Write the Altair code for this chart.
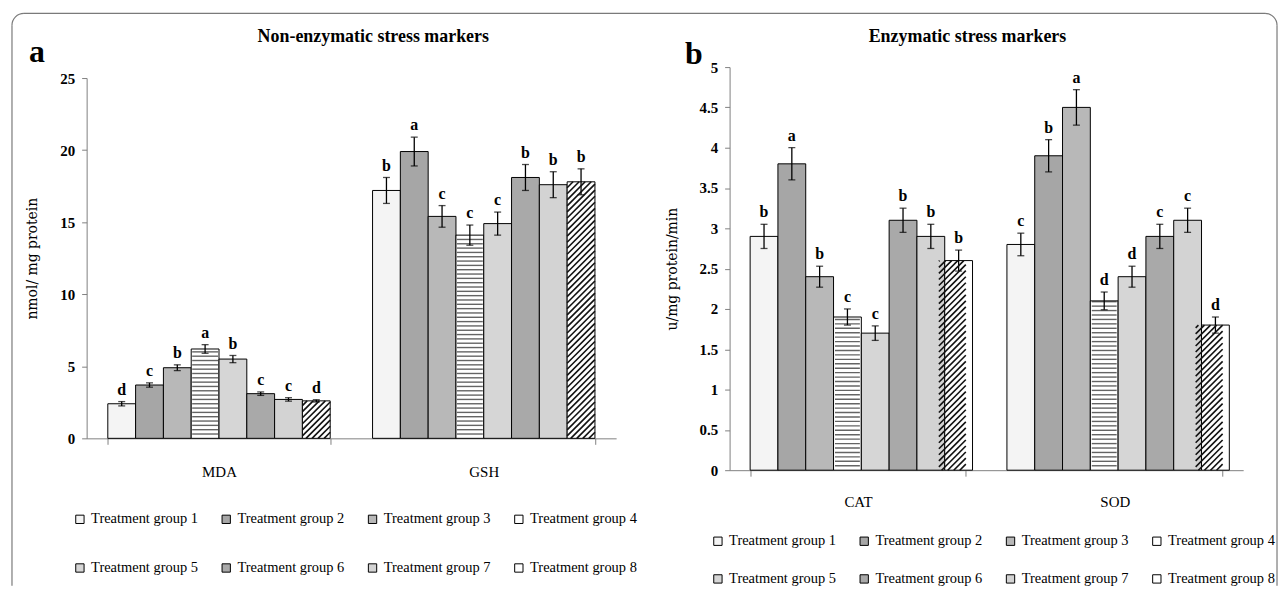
import altair as alt
import pandas as pd

groups = ["Treatment group 1", "Treatment group 2", "Treatment group 3", "Treatment group 4",
          "Treatment group 5", "Treatment group 6", "Treatment group 7", "Treatment group 8"]
fills = ["#f4f4f4", "#a6a6a6", "#b8b8b8", "#ffffff", "#d6d6d6", "#a9a9a9", "#d3d3d3", "#ffffff"]
striped_group = "Treatment group 4"
hatched_group = "Treatment group 8"

a_categories = ["MDA", "GSH"]
mda_values = [2.4, 3.7, 4.9, 6.2, 5.5, 3.1, 2.7, 2.6]
mda_err = [0.15, 0.15, 0.2, 0.3, 0.25, 0.12, 0.12, 0.08]
mda_letters = ["d", "c", "b", "a", "b", "c", "c", "d"]
gsh_values = [17.2, 19.9, 15.4, 14.1, 14.9, 18.1, 17.6, 17.8]
gsh_err = [0.9, 1.0, 0.75, 0.7, 0.8, 0.9, 0.9, 0.9]
gsh_letters = ["b", "a", "c", "c", "c", "b", "b", "b"]

b_categories = ["CAT", "SOD"]
cat_values = [2.9, 3.8, 2.4, 1.9, 1.7, 3.1, 2.9, 2.6]
cat_err = [0.15, 0.2, 0.13, 0.1, 0.09, 0.15, 0.15, 0.13]
cat_letters = ["b", "a", "b", "c", "c", "b", "b", "b"]
sod_values = [2.8, 3.9, 4.5, 2.1, 2.4, 2.9, 3.1, 1.8]
sod_err = [0.14, 0.2, 0.22, 0.11, 0.13, 0.15, 0.15, 0.1]
sod_letters = ["c", "b", "a", "d", "d", "c", "c", "d"]

a_ticks = [0, 5, 10, 15, 20, 25]
b_ticks = [0, 0.5, 1, 1.5, 2, 2.5, 3, 3.5, 4, 4.5, 5]


def build(series):
    rows = []
    for cat, vals, errs, lets in series:
        for g, v, e, l in zip(groups, vals, errs, lets):
            rows.append({"category": cat, "group": g, "value": v, "err": e, "letter": l})
    return pd.DataFrame(rows)


df_a = build([("MDA", mda_values, mda_err, mda_letters), ("GSH", gsh_values, gsh_err, gsh_letters)])
df_b = build([("CAT", cat_values, cat_err, cat_letters), ("SOD", sod_values, sod_err, sod_letters)])
one = pd.DataFrame({"k": [0]})

SERIF = "Liberation Serif"
PAD_IN, PAD_OUT = 0.16, 0.08
BORDER = "#7a7a7a"


def panel(df, cats, ymax, ticks, yrange, width, height, title, title_x, ylabel, ytitle_pad,
          letter, letter_x, letter_y, legend_x, legend_y, row_pad, xlabel_pad, stripe_step, bar_w,
          hatch_rise, hatch_step, border=False):
    xenc = alt.X("category:N", sort=cats,
                 scale=alt.Scale(paddingInner=PAD_IN, paddingOuter=PAD_OUT),
                 axis=alt.Axis(title=None, labelAngle=0, tickBand="extent", domainColor="#808080",
                               tickColor="#808080", tickSize=6, labelPadding=xlabel_pad, labelFont=SERIF,
                               labelFontSize=15, labelColor="black"))
    xo = alt.XOffset("group:N", sort=groups, scale=alt.Scale(paddingInner=0, paddingOuter=0))

    def yenc(field):
        return alt.Y(field, type="quantitative",
                     scale=alt.Scale(domain=[0, ymax], range=yrange, nice=False, zero=True),
                     axis=alt.Axis(values=ticks, grid=False, domainColor="#808080", tickColor="#808080",
                                   tickSize=5, labelPadding=7, labelFont=SERIF, labelFontSize=15,
                                   labelFontWeight="bold", labelColor="black", format="~g",
                                   title=ylabel, titleFont="DejaVu Serif", titleFontSize=14,
                                   titleFontWeight="normal", titleColor="black",
                                   titlePadding=ytitle_pad))

    base = alt.Chart(df).transform_calculate(hi="datum.value + datum.err", lo="datum.value - datum.err")

    bars = base.mark_bar(stroke="black", strokeWidth=1).encode(
        x=xenc, xOffset=xo, y=yenc("value"),
        color=alt.Color("group:N", sort=groups, scale=alt.Scale(domain=groups, range=fills),
                        legend=alt.Legend(orient="none", legendX=legend_x, legendY=legend_y, columns=4,
                                          direction="horizontal", title=None, symbolType="square",
                                          symbolSize=70, symbolStrokeColor="black", symbolStrokeWidth=1,
                                          labelFont=SERIF, labelFontSize=14.5, labelColor="black",
                                          columnPadding=21, rowPadding=row_pad, labelOffset=4,
                                          padding=0, labelLimit=200)))
    stripes = base.transform_filter(alt.datum.group == striped_group).transform_calculate(
        level=f"sequence({stripe_step}, datum.value, {stripe_step})").transform_flatten(
        ["level"]).mark_tick(color="#222222", thickness=1.4, size=bar_w).encode(
        x=xenc, xOffset=xo, y=yenc("level"))
    rules = base.mark_rule(color="black", strokeWidth=1.3).encode(
        x=xenc, xOffset=xo, y=yenc("lo"), y2="hi:Q")
    cap_hi = base.mark_tick(color="black", thickness=1.3, size=7).encode(x=xenc, xOffset=xo, y=yenc("hi"))
    cap_lo = base.mark_tick(color="black", thickness=1.3, size=7).encode(x=xenc, xOffset=xo, y=yenc("lo"))
    letters = base.mark_text(font=SERIF, fontSize=16, fontWeight="bold", baseline="bottom", dy=-4,
                             color="black").encode(x=xenc, xOffset=xo, y=yenc("hi"), text="letter:N")
    band_layers = alt.layer(bars, stripes, rules, cap_hi, cap_lo, letters)

    # diagonal hatching of group 8, in units of the band step (linear scale over the two bands)
    bw_u = (1 - PAD_IN) / len(groups)
    cats_js = "[" + ",".join(f"'{c}'" for c in cats) + "]"
    groups_js = "[" + ",".join(f"'{g}'" for g in groups) + "]"
    hatch = base.transform_filter(alt.datum.group == hatched_group).transform_calculate(
        left=f"{PAD_OUT} + indexof({cats_js}, datum.category) + indexof({groups_js}, datum.group) * {bw_u}",
        L=f"sequence({hatch_step} - {hatch_rise}, datum.value, {hatch_step})").transform_flatten(
        ["L"]).transform_calculate(
        t0=f"max(0, -datum.L / {hatch_rise})",
        t1=f"min(1, (datum.value - datum.L) / {hatch_rise})").transform_filter(
        "datum.t1 > datum.t0").transform_calculate(
        hx1=f"datum.left + datum.t0 * {bw_u}", hx2=f"datum.left + datum.t1 * {bw_u}",
        hy1=f"datum.L + datum.t0 * {hatch_rise}", hy2=f"datum.L + datum.t1 * {hatch_rise}").mark_rule(
        color="#111111", strokeWidth=1.6).encode(
        x=alt.X("hx1:Q", scale=alt.Scale(domain=[0, len(cats)], nice=False, zero=False), axis=None),
        x2="hx2:Q", y=yenc("hy1"), y2="hy2:Q")

    plabel = alt.Chart(one).mark_text(text=letter, font=SERIF, fontSize=32, fontWeight="bold",
                                      align="center", baseline="alphabetic", color="black").encode(
        x=alt.value(letter_x), y=alt.value(letter_y))
    ptitle = alt.Chart(one).mark_text(text=title, font=SERIF, fontSize=18, fontWeight="bold",
                                      align="center", baseline="alphabetic", color="black").encode(
        x=alt.value(title_x), y=alt.value(-25))
    layers = []
    if border:
        L_, R_, T_, B_, r = -75, 1196, -54, 521, 12
        layers += [
            alt.Chart(one).mark_rule(color=BORDER, strokeWidth=1.2).encode(
                x=alt.value(L_), y=alt.value(T_ + r), y2=alt.value(B_)),
            alt.Chart(one).mark_rule(color=BORDER, strokeWidth=1.2).encode(
                x=alt.value(R_), y=alt.value(T_ + r), y2=alt.value(B_)),
            alt.Chart(one).mark_rule(color=BORDER, strokeWidth=1.2).encode(
                x=alt.value(L_ + r), x2=alt.value(R_ - r), y=alt.value(T_)),
            alt.Chart(one).mark_arc(radius=r + 0.6, radius2=r - 0.6, theta=4.712389, theta2=6.283185,
                                    color=BORDER).encode(x=alt.value(L_ + r), y=alt.value(T_ + r)),
            alt.Chart(one).mark_arc(radius=r + 0.6, radius2=r - 0.6, theta=0, theta2=1.570796,
                                    color=BORDER).encode(x=alt.value(R_ - r), y=alt.value(T_ + r)),
        ]
    layers += [band_layers, hatch, plabel, ptitle]
    return alt.layer(*layers).resolve_scale(x="independent").properties(width=width, height=height)


chart_a = panel(df_a, a_categories, 25, a_ticks, [373, 11], 532, 373, "Non-enzymatic stress markers", 288,
                "nmol/ mg protein", 20, "a", -50, -5, -14, 447, 34, 20, 0.3, 26, 1.93, 0.42, border=True)
chart_b = panel(df_b, b_categories, 5, b_ticks, [405, 0], 516, 405, "Enzymatic stress markers", 239,
                "u/mg protein/min", 20, "b", -36, -3, -19, 469, 23, 18, 0.055, 25, 0.334, 0.075)

chart = alt.hconcat(chart_a, chart_b, spacing=114, bounds="flush").resolve_scale(
    color="independent").properties(padding={"left": 2, "top": 2, "right": 0, "bottom": 0}).configure_view(
    stroke="transparent").configure_legend(labelFont=SERIF)

chart.save("out.html", embed_options={"renderer": "svg", "actions": False})
